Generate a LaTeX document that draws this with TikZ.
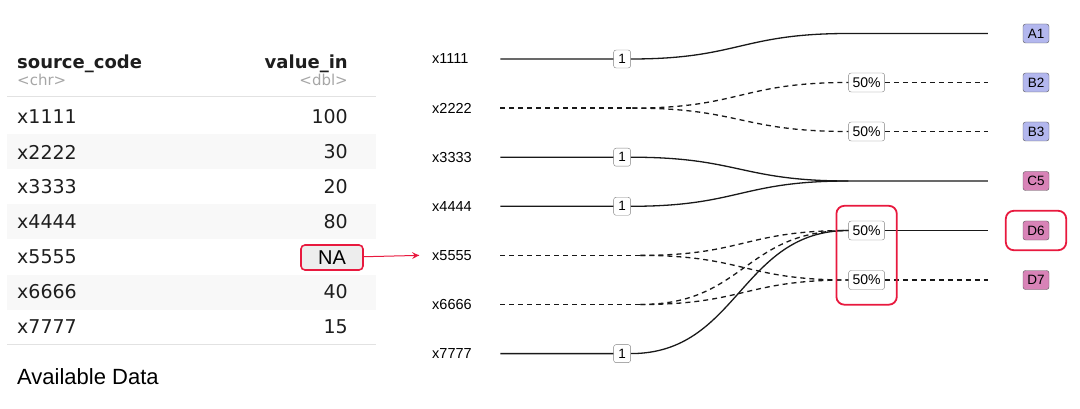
\documentclass[tikz,border=0pt]{standalone}
\usepackage{fontspec}
\setmainfont{Liberation Sans}
\newfontfamily\tabfont{DejaVu Sans}
\usetikzlibrary{arrows,decorations.markings,fit,positioning}
\definecolor{nared}{HTML}{E8193E}
\definecolor{tblue}{HTML}{B3B7EE}
\definecolor{tpink}{HTML}{D883B7}
\definecolor{rowfill}{HTML}{F8F8F8}
\definecolor{tabline}{HTML}{E2E2E2}
\definecolor{tabtext}{HTML}{1E1E1E}
\tikzstyle{cell} = [inner sep=0pt, text=tabtext, font=\tabfont\fontsize{19}{22}\selectfont]
\tikzstyle{colhead} = [inner sep=0pt, text=tabtext, font=\tabfont\bfseries\fontsize{18}{21}\selectfont]
\tikzstyle{coltype} = [inner sep=0pt, text=black!35, font=\tabfont\fontsize{15}{18}\selectfont]
\tikzstyle{src} = [anchor=west, text width=68pt, inner sep=0pt, align=left, font=\fontsize{14.5}{16}\selectfont]
\tikzstyle{wbox} = [rectangle, rounded corners=2.5pt, draw=black!50, fill=white, inner sep=0pt, minimum width=17pt, minimum height=18pt, font=\fontsize{13.5}{14}\selectfont]
\tikzstyle{pbox} = [rectangle, rounded corners=2.5pt, draw=black!50, fill=white, inner sep=0pt, minimum width=36pt, minimum height=19pt, font=\fontsize{14}{15}\selectfont]
\tikzstyle{tgt} = [rectangle, rounded corners=2.5pt, draw=black!65, inner sep=0pt, minimum width=26pt, minimum height=19pt, font=\fontsize{13.5}{14}\selectfont]
\tikzstyle{flow} = [draw=black!90, line width=1.3pt]
\tikzstyle{flowd} = [flow, dash pattern=on 5pt off 4pt]
\tikzstyle{redframe} = [rectangle, draw=nared, line width=1.8pt, rounded corners=8pt]

\begin{document}
\begin{tikzpicture}[x=1pt,y=-1pt]
    \tikzset{myptr/.style={decoration={markings,mark=at position 1 with %
    {\arrow[scale=1.5,>=stealth,nared]{>}}},postaction={decorate}}}
    \useasboundingbox (0,0) rectangle (1080,409);

    % table of available data
    \foreach \i in {1,3,5} \fill[rowfill] (7,{99.5+35*\i}) rectangle (376,{134.5+35*\i});
    \draw[tabline, line width=0.8pt] (7,96) -- (376,96);
    \draw[tabline, line width=0.8pt] (7,344.5) -- (376,344.5);
    \node (hcode) [colhead, anchor=base west] at (17,69) {source\_code};
    \node (tcode) [coltype, anchor=base west] at (17,86) {<chr>};
    \node (hval) [colhead, anchor=base east] at (348,69) {value\_in};
    \node (tval) [coltype, anchor=base east] at (348,86) {<dbl>};
    \foreach \code/\val [count=\i] in {x1111/100,x2222/30,x3333/20,x4444/80,x5555/{},x6666/40,x7777/15} {
        \node (c\i) [cell, anchor=west] at (17,{117+35*(\i-1)}) {\code};
        \node (v\i) [cell, anchor=east] at (348,{117+35*(\i-1)}) {\val};
    }
    \node (na) [rectangle, draw=nared, fill=black!7, line width=1.6pt, rounded corners=4pt, minimum width=62pt, minimum height=25pt, inner sep=0pt, font=\fontsize{20}{22}\selectfont] at (332,257.5) {NA};
    \node (caption) [anchor=west, inner sep=0pt, font=\fontsize{22}{26}\selectfont] at (17,377) {Available Data};

    % sources and targets
    \foreach \lab [count=\i] in {x1111,x2222,x3333,x4444,x5555,x6666,x7777}
        \node (s\i) [src] at (432,{59+49.1*(\i-1)}) {\lab};
    \foreach \lab/\yy/\col in {A1/33.5/tblue,B2/82.5/tblue,B3/131.5/tblue,C5/181/tpink,D6/230.5/tpink,D7/280/tpink} {
        \node (t\lab) [tgt, fill=\col] at (1036,\yy) {\lab};
        \coordinate (e\lab) at ([xshift=-35pt]t\lab.west);
    }
    \foreach \i in {1,3,4,7}
        \node (w\i) [wbox, right=113pt of s\i.east] {1};
    \node (p2a) [pbox, left=138pt of tB2.west] {50\%};
    \node (p2b) [pbox, left=138pt of tB3.west] {50\%};
    \node (p5a) [pbox, left=138pt of tD6.west] {50\%};
    \node (p5b) [pbox, left=138pt of tD7.west] {50\%};

    % flows
    \draw [flow] (s1.east) -- (w1) (w1.east) .. controls +(108,0) and +(-108,0) .. (p2a.west |- tA1) -- (eA1);
    \draw [flowd] (s2.east) -- ++(132,0) coordinate (k2);
    \draw [flowd] (k2) .. controls +(108,0) and +(-108,0) .. (p2a.west);
    \draw [flowd] (k2) .. controls +(108,0) and +(-108,0) .. (p2b.west);
    \draw [flowd] (p2a) -- (eB2);
    \draw [flowd] (p2b) -- (eB3);
    \draw [flow] (s3.east) -- (w3) (w3.east) .. controls +(108,0) and +(-108,0) .. (p2a.west |- tC5) -- (eC5);
    \draw [flow] (s4.east) -- (w4) (w4.east) .. controls +(108,0) and +(-108,0) .. (p2a.west |- tC5);
    \draw [flowd] (s5.east) -- ++(140,0) coordinate (k5);
    \draw [flowd] (k5) .. controls +(104,0) and +(-104,0) .. (p5a.west);
    \draw [flowd] (k5) .. controls +(104,0) and +(-104,0) .. (p5b.west);
    \draw [flowd] (s6.east) -- ++(140,0) coordinate (k6);
    \draw [flowd] (k6) .. controls +(104,0) and +(-104,0) .. (p5a.west);
    \draw [flowd] (k6) .. controls +(104,0) and +(-104,0) .. (p5b.west);
    \draw [flow] (s7.east) -- (w7) (w7.east) .. controls +(108,0) and +(-108,0) .. (p5a.west);
    \draw [flow] (p5a) -- (eD6);
    \draw [flowd] (p5b) -- (eD7);

    % highlights
    \node (hlp) [redframe, fit=(p5a)(p5b), inner xsep=12pt, inner ysep=15pt] {};
    \node (hlt) [redframe, fit=(tD6), inner xsep=17pt, inner ysep=10pt] {};
    \coordinate (naend) at ([xshift=-13pt]s5.west);
    \draw [myptr, nared, line width=1pt] (na) -- (naend);
\end{tikzpicture}
\end{document}
